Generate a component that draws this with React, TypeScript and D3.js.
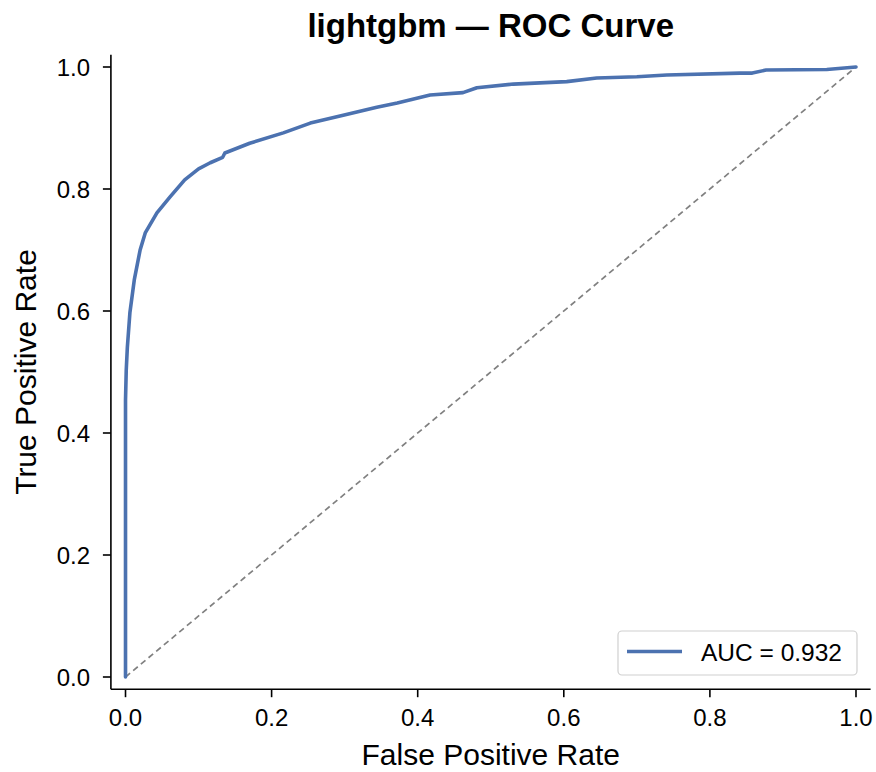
import React from "react";
import * as d3 from "d3";

const fpr = [0, 0, 0, 0.001, 0.0025, 0.006, 0.012, 0.02, 0.027, 0.043, 0.061, 0.081, 0.1, 0.116, 0.133, 0.136, 0.17, 0.216, 0.253, 0.298, 0.344, 0.372, 0.417, 0.462, 0.481, 0.531, 0.604, 0.645, 0.7, 0.741, 0.841, 0.858, 0.877, 0.96, 1.0];
const tpr = [0, 0.29, 0.454, 0.503, 0.54, 0.597, 0.651, 0.7, 0.728, 0.761, 0.787, 0.815, 0.833, 0.843, 0.852, 0.859, 0.875, 0.892, 0.908, 0.921, 0.934, 0.941, 0.954, 0.958, 0.966, 0.972, 0.976, 0.982, 0.984, 0.987, 0.99, 0.99, 0.995, 0.996, 1.0];
const xTicks = [0, 0.2, 0.4, 0.6, 0.8, 1.0];
const yTicks = [0, 0.2, 0.4, 0.6, 0.8, 1.0];
const title = "lightgbm — ROC Curve";
const xLabel = "False Positive Rate";
const yLabel = "True Positive Rate";
const legendLabel = "AUC = 0.932";

const W = 876, H = 772;
const FONT = "'Liberation Sans', Arial, Helvetica, sans-serif";

export default function App() {
  const x = d3.scaleLinear().domain([-0.02, 1.02]).range([110.9, 870.6]);
  const y = d3.scaleLinear().domain([-0.02, 1.02]).range([689.2, 54.8]);
  const pts = fpr.map((f, i) => [f, tpr[i]] as [number, number]);
  const line = d3.line<[number, number]>().x(d => x(d[0])).y(d => y(d[1]));
  const [x0, x1] = x.range();
  const [y0, y1] = y.range();
  const fmt = d3.format(".1f");
  return (
    <svg width={W} height={H} style={{ position: "absolute", left: 0, top: 0, background: "#fff" }} fontFamily={FONT}>
      <rect x={0} y={0} width={W} height={H} fill="#fff" />
      <text x={(x0 + x1) / 2} y={37} textAnchor="middle" fontSize={33} fontWeight="bold" fill="#000">{title}</text>
      <line x1={x(0)} y1={y(0)} x2={x(1)} y2={y(1)} stroke="#808080" strokeWidth={1.7} strokeDasharray="6,4" />
      <path d={line(pts) || ""} fill="none" stroke="#4C72B0" strokeWidth={3.6} strokeLinejoin="round" strokeLinecap="round" />
      <line x1={x0} y1={y0} x2={x1} y2={y0} stroke="#000" strokeWidth={1.6} />
      <line x1={x0} y1={y0} x2={x0} y2={y1} stroke="#000" strokeWidth={1.6} />
      {xTicks.map(t => (
        <g key={"x" + t}>
          <line x1={x(t)} x2={x(t)} y1={y0} y2={y0 + 8} stroke="#000" strokeWidth={1.6} />
          <text x={x(t)} y={726} textAnchor="middle" fontSize={24} fill="#000">{fmt(t)}</text>
        </g>
      ))}
      {yTicks.map(t => (
        <g key={"y" + t}>
          <line x1={x0 - 8} x2={x0} y1={y(t)} y2={y(t)} stroke="#000" strokeWidth={1.6} />
          <text x={90} y={y(t) + 8.8} textAnchor="end" fontSize={24} fill="#000">{fmt(t)}</text>
        </g>
      ))}
      <text x={(x0 + x1) / 2} y={765} textAnchor="middle" fontSize={30} fill="#000">{xLabel}</text>
      <text transform={`translate(36,${(y0 + y1) / 2}) rotate(-90)`} textAnchor="middle" fontSize={30} fill="#000">{yLabel}</text>
      <rect x={618} y={631} width={239} height={44} rx={4} ry={4} fill="#fff" fillOpacity={0.8} stroke="#d0d0d0" strokeWidth={1.2} />
      <line x1={627} x2={682} y1={651.5} y2={651.5} stroke="#4C72B0" strokeWidth={3.6} />
      <text x={701} y={660.5} fontSize={24.5} fill="#000">{legendLabel}</text>
    </svg>
  );
}
